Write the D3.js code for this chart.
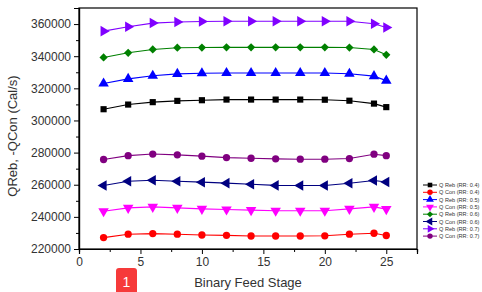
<!DOCTYPE html>
<html>
<head>
<meta charset="utf-8">
<script src="https://cdn.jsdelivr.net/npm/d3@7"></script>
<style>
  body { margin: 0; background: #fff; }
  svg { display: block; font-family: "Liberation Sans", Arial, sans-serif; }
</style>
</head>
<body>
<svg id="chart" width="482" height="292"></svg>
<script>
// data
var stages = [2, 4, 6, 8, 10, 12, 14, 16, 18, 20, 22, 24, 25];
var qReb04 = [307000, 309900, 311400, 312200, 312600, 313000, 313000, 313000, 313000, 312900, 312300, 310500, 308300];
var qCon04 = [227100, 229200, 229600, 229200, 228700, 228500, 228100, 228100, 228100, 228200, 229200, 229800, 228400];
var qReb05 = [323000, 325900, 327800, 329000, 329400, 329500, 329500, 329500, 329500, 329500, 329100, 327600, 324800];
var qCon05 = [243500, 245600, 246200, 245600, 245000, 244600, 244200, 243800, 243800, 243800, 245000, 246200, 244800];
var qReb06 = [339200, 342100, 344200, 345300, 345400, 345500, 345500, 345500, 345500, 345500, 345400, 344200, 340900];
var qCon06 = [259500, 262200, 262800, 262200, 261600, 261000, 260300, 259600, 259500, 259500, 260900, 262600, 261700];
var qReb07 = [355600, 358300, 360600, 361300, 361600, 361800, 361800, 361800, 361800, 361800, 361800, 360200, 357900];
var qCon07 = [275700, 278100, 279100, 278600, 277800, 276900, 276500, 276100, 275900, 275900, 276300, 279000, 278100];
var seriesNames = ["Q Reb (RR: 0.4)", "Q Con (RR: 0.4)", "Q Reb (RR: 0.5)", "Q Con (RR: 0.5)",
                   "Q Reb (RR: 0.6)", "Q Con (RR: 0.6)", "Q Reb (RR: 0.7)", "Q Con (RR: 0.7)"];
var seriesValues = [qReb04, qCon04, qReb05, qCon05, qReb06, qCon06, qReb07, qCon07];
var seriesColors = ["#000000", "#ff0000", "#0000ff", "#ff00ff", "#008000", "#000080", "#8000ff", "#800080"];
// marker: [symbol, size, rotation]
var seriesMarks = [
  [d3.symbolSquare, 38, 0], [d3.symbolCircle, 42, 0], [d3.symbolTriangle, 48, 0], [d3.symbolTriangle, 48, 180],
  [d3.symbolSquare, 34, 45], [d3.symbolTriangle, 48, -90], [d3.symbolTriangle, 48, 90], [d3.symbolCircle, 42, 0]
];

var svg = d3.select("#chart");
var m = { left: 79, top: 8, right: 417, bottom: 249 };

var x = d3.scaleLinear().domain([0, 27.5]).range([m.left, m.right]);
var y = d3.scaleLinear().domain([220000, 370000]).range([m.bottom, m.top]);

// frame
svg.append("rect").attr("x", m.left).attr("y", m.top)
  .attr("width", m.right - m.left).attr("height", m.bottom - m.top)
  .attr("fill", "none").attr("stroke", "#000").attr("stroke-width", 1.2);

// axes
svg.append("g").attr("transform", "translate(0," + m.bottom + ")")
  .call(d3.axisBottom(x).tickValues([0, 5, 10, 15, 20, 25]).tickSize(5).tickPadding(3).tickFormat(d3.format("d")));
svg.append("g").attr("transform", "translate(0," + m.bottom + ")")
  .call(d3.axisBottom(x).tickValues([2.5, 7.5, 12.5, 17.5, 22.5]).tickSize(3).tickFormat(""));
svg.append("g").attr("transform", "translate(" + m.left + ",0)")
  .call(d3.axisLeft(y).tickValues(d3.range(220000, 360001, 20000)).tickSize(5).tickPadding(3).tickFormat(d3.format("d")));
svg.append("g").attr("transform", "translate(" + m.left + ",0)")
  .call(d3.axisLeft(y).tickValues(d3.range(230000, 370001, 20000)).tickSize(3).tickFormat(""));
svg.selectAll(".domain").attr("stroke", "#000").attr("stroke-width", 1.2);
svg.selectAll(".tick line").attr("stroke", "#000");
svg.selectAll(".tick text").attr("font-size", 12).attr("fill", "#333")
  .attr("font-family", "Liberation Sans, Arial, sans-serif");

// axis titles
svg.append("text").attr("x", (m.left + m.right) / 2).attr("y", 287)
  .attr("text-anchor", "middle").attr("font-size", 13).attr("fill", "#333").text("Binary Feed Stage");
svg.append("text").attr("transform", "translate(17,136) rotate(-90)")
  .attr("text-anchor", "middle").attr("font-size", 13).attr("fill", "#333").text("QReb, -QCon (Cal/s)");

// series
var line = d3.line().x(function(d) { return x(d[0]); }).y(function(d) { return y(d[1]); });
seriesValues.forEach(function(vals, i) {
  var pts = stages.map(function(s, j) { return [s, vals[j]]; });
  var g = svg.append("g");
  g.append("path").datum(pts).attr("d", line).attr("fill", "none")
    .attr("stroke", seriesColors[i]).attr("stroke-width", 1.1);
  var mk = seriesMarks[i];
  g.selectAll("path.mark").data(pts).enter().append("path").attr("class", "mark")
    .attr("d", d3.symbol().type(mk[0]).size(mk[1]))
    .attr("transform", function(d) { return "translate(" + x(d[0]) + "," + y(d[1]) + ") rotate(" + mk[2] + ")"; })
    .attr("fill", seriesColors[i]);
});

// legend
var leg = svg.append("g").attr("transform", "translate(423,185)");
seriesNames.forEach(function(name, i) {
  var r = leg.append("g").attr("transform", "translate(0," + (i * 7.3) + ")");
  r.append("line").attr("x1", 0).attr("x2", 14).attr("stroke", seriesColors[i]).attr("stroke-width", 1);
  var mk = seriesMarks[i];
  r.append("path").attr("d", d3.symbol().type(mk[0]).size(mk[1] * 0.55))
    .attr("transform", "translate(7,0) rotate(" + mk[2] + ")").attr("fill", seriesColors[i]);
  r.append("text").attr("x", 16).attr("y", 2).attr("font-size", 5.6).attr("fill", "#333").text(name);
});

// red marker badge
svg.append("rect").attr("x", 116).attr("y", 268).attr("width", 21).attr("height", 30)
  .attr("rx", 3).attr("fill", "#f63a3a");
svg.append("text").attr("x", 126.5).attr("y", 287).attr("text-anchor", "middle")
  .attr("font-size", 14).attr("fill", "#fff").text("1");
</script>
</body>
</html>
